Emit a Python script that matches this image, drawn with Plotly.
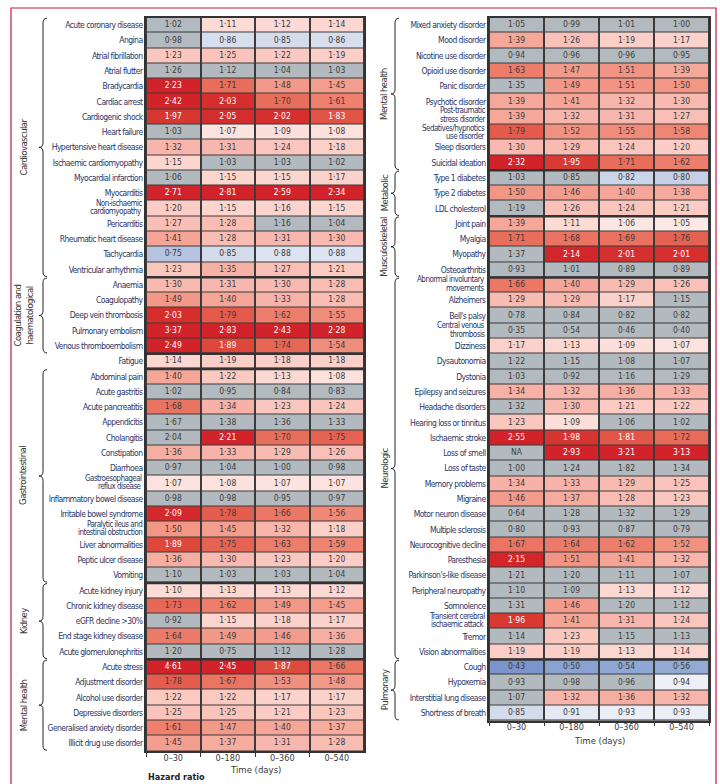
import plotly.graph_objects as go

# ---------------- data ----------------
time_windows = ["0–30", "0–180", "0–360", "0–540"]

left_conditions = [
    "Acute coronary disease", "Angina", "Atrial fibrillation", "Atrial flutter", "Bradycardia",
    "Cardiac arrest", "Cardiogenic shock", "Heart failure", "Hypertensive heart disease",
    "Ischaemic cardiomyopathy", "Myocardial infarction", "Myocarditis",
    "Non-ischaemic<br>cardiomyopathy", "Pericarditis", "Rheumatic heart disease", "Tachycardia",
    "Ventricular arrhythmia",
    "Anaemia", "Coagulopathy", "Deep vein thrombosis", "Pulmonary embolism", "Venous thromboembolism",
    "Fatigue",
    "Abdominal pain", "Acute gastritis", "Acute pancreatitis", "Appendicitis", "Cholangitis",
    "Constipation", "Diarrhoea", "Gastroesophageal<br>reflux disease", "Inflammatory bowel disease",
    "Irritable bowel syndrome", "Paralytic ileus and<br>intestinal obstruction", "Liver abnormalities",
    "Peptic ulcer disease", "Vomiting",
    "Acute kidney injury", "Chronic kidney disease", "eGFR decline >30%", "End stage kidney disease",
    "Acute glomerulonephritis",
    "Acute stress", "Adjustment disorder", "Alcohol use disorder", "Depressive disorders",
    "Generalised anxiety disorder", "Illicit drug use disorder",
]
left_hr = [
    [1.02, 1.11, 1.12, 1.14], [0.98, 0.86, 0.85, 0.86], [1.23, 1.25, 1.22, 1.19], [1.26, 1.12, 1.04, 1.03],
    [2.23, 1.71, 1.48, 1.45], [2.42, 2.03, 1.70, 1.61], [1.97, 2.05, 2.02, 1.83], [1.03, 1.07, 1.09, 1.08],
    [1.32, 1.31, 1.24, 1.18], [1.15, 1.03, 1.03, 1.02], [1.06, 1.15, 1.15, 1.17], [2.71, 2.81, 2.59, 2.34],
    [1.20, 1.15, 1.16, 1.15], [1.27, 1.28, 1.16, 1.04], [1.41, 1.28, 1.31, 1.30], [0.75, 0.85, 0.88, 0.88],
    [1.23, 1.35, 1.27, 1.21],
    [1.30, 1.31, 1.30, 1.28], [1.49, 1.40, 1.33, 1.28], [2.03, 1.79, 1.62, 1.55], [3.37, 2.83, 2.43, 2.28],
    [2.49, 1.89, 1.74, 1.54],
    [1.14, 1.19, 1.18, 1.18],
    [1.40, 1.22, 1.13, 1.08], [1.02, 0.95, 0.84, 0.83], [1.68, 1.34, 1.23, 1.24], [1.67, 1.38, 1.36, 1.33],
    [2.04, 2.21, 1.70, 1.75], [1.36, 1.33, 1.29, 1.26], [0.97, 1.04, 1.00, 0.98], [1.07, 1.08, 1.07, 1.07],
    [0.98, 0.98, 0.95, 0.97], [2.09, 1.78, 1.66, 1.56], [1.50, 1.45, 1.32, 1.18], [1.89, 1.75, 1.63, 1.59],
    [1.36, 1.30, 1.23, 1.20], [1.10, 1.03, 1.03, 1.04],
    [1.10, 1.13, 1.13, 1.12], [1.73, 1.62, 1.49, 1.45], [0.92, 1.15, 1.18, 1.17], [1.64, 1.49, 1.46, 1.36],
    [1.20, 0.75, 1.12, 1.28],
    [4.61, 2.45, 1.87, 1.66], [1.78, 1.67, 1.53, 1.48], [1.22, 1.22, 1.17, 1.17], [1.25, 1.25, 1.21, 1.23],
    [1.61, 1.47, 1.40, 1.37], [1.45, 1.37, 1.31, 1.28],
]
# 1 = not significant (grey cell)
left_grey = [
    "1000", "1000", "0000", "1111", "0000", "0000", "0000", "1000", "0000", "0111", "1000", "0000",
    "0000", "0011", "0000", "0000", "0000",
    "0000", "0000", "0000", "0000", "0000",
    "0000",
    "0000", "1111", "0000", "1111", "1000", "0000", "1111", "0000", "1111", "0000", "0000", "0000",
    "0000", "1111",
    "0000", "0000", "1000", "0000", "1111",
    "0000", "0000", "0000", "0000", "0000", "0000",
]
left_groups = [
    ("Cardiovascular", 0, 16), ("Coagulation and<br>haematological", 17, 21),
    ("Gastrointestinal", 23, 36), ("Kidney", 37, 41), ("Mental health", 42, 47),
]
left_breaks = [16, 21, 22, 36, 41]

right_conditions = [
    "Mixed anxiety disorder", "Mood disorder", "Nicotine use disorder", "Opioid use disorder",
    "Panic disorder", "Psychotic disorder", "Post-traumatic<br>stress disorder",
    "Sedatives/hypnotics<br>use disorder", "Sleep disorders", "Suicidal ideation",
    "Type 1 diabetes", "Type 2 diabetes", "LDL cholesterol",
    "Joint pain", "Myalgia", "Myopathy", "Osteoarthritis",
    "Abnormal involuntary<br>movements", "Alzheimers", "Bell's palsy", "Central venous<br>thrombosis",
    "Dizziness", "Dysautonomia", "Dystonia", "Epilepsy and seizures", "Headache disorders",
    "Hearing loss or tinnitus", "Ischaemic stroke", "Loss of smell", "Loss of taste",
    "Memory problems", "Migraine", "Motor neuron disease", "Multiple sclerosis",
    "Neurocognitive decline", "Paresthesia", "Parkinson's-like disease", "Peripheral neuropathy",
    "Somnolence", "Transient cerebral<br>ischaemic attack", "Tremor", "Vision abnormalities",
    "Cough", "Hypoxemia", "Interstitial lung disease", "Shortness of breath",
]
right_hr = [
    [1.05, 0.99, 1.01, 1.00], [1.39, 1.26, 1.19, 1.17], [0.94, 0.96, 0.96, 0.95], [1.63, 1.47, 1.51, 1.39],
    [1.35, 1.49, 1.51, 1.50], [1.39, 1.41, 1.32, 1.30], [1.39, 1.32, 1.31, 1.27], [1.79, 1.52, 1.55, 1.58],
    [1.30, 1.29, 1.24, 1.20], [2.32, 1.95, 1.71, 1.62],
    [1.03, 0.85, 0.82, 0.80], [1.50, 1.46, 1.40, 1.38], [1.19, 1.26, 1.24, 1.21],
    [1.39, 1.11, 1.06, 1.05], [1.71, 1.68, 1.69, 1.76], [1.37, 2.14, 2.01, 2.01], [0.93, 1.01, 0.89, 0.89],
    [1.66, 1.40, 1.29, 1.26], [1.29, 1.29, 1.17, 1.15], [0.78, 0.84, 0.82, 0.82], [0.35, 0.54, 0.46, 0.40],
    [1.17, 1.13, 1.09, 1.07], [1.22, 1.15, 1.08, 1.07], [1.03, 0.92, 1.16, 1.29], [1.34, 1.32, 1.36, 1.33],
    [1.32, 1.30, 1.21, 1.22], [1.23, 1.09, 1.06, 1.02], [2.55, 1.98, 1.81, 1.72], [None, 2.93, 3.21, 3.13],
    [1.00, 1.24, 1.82, 1.34], [1.34, 1.33, 1.29, 1.25], [1.46, 1.37, 1.28, 1.23], [0.64, 1.28, 1.32, 1.29],
    [0.80, 0.93, 0.87, 0.79], [1.67, 1.64, 1.62, 1.52], [2.15, 1.51, 1.41, 1.32], [1.21, 1.20, 1.11, 1.07],
    [1.10, 1.09, 1.13, 1.12], [1.31, 1.46, 1.20, 1.12], [1.96, 1.41, 1.31, 1.24], [1.14, 1.23, 1.15, 1.13],
    [1.19, 1.19, 1.13, 1.14],
    [0.43, 0.50, 0.54, 0.56], [0.93, 0.98, 0.96, 0.94], [1.07, 1.32, 1.36, 1.32], [0.85, 0.91, 0.93, 0.93],
]
right_grey = [
    "1111", "0000", "1111", "0000", "1000", "0000", "0000", "0000", "0000", "0000",
    "1100", "0000", "1000",
    "0000", "0000", "1000", "1111",
    "0000", "0001", "1111", "1111", "0000", "1111", "1111", "0000", "1000", "0011", "0000", "1000",
    "1111", "0000", "0000", "1111", "1111", "0000", "0000", "1111", "1100", "1011", "0000", "1011",
    "0000",
    "0000", "1110", "1000", "0000",
]
right_groups = [
    ("Mental health", 0, 9), ("Metabolic", 10, 12), ("Musculoskeletal", 13, 16),
    ("Neurologic", 17, 41), ("Pulmonary", 42, 45),
]
right_breaks = [9, 12, 16, 41]

# ---------------- styling ----------------
W, H = 720, 784
FONT = "DejaVu Sans Condensed, Liberation Sans Narrow, sans-serif"
LABEL_COL = "#2b3566"
TEXT_COL = "#3a3a3a"
GREY = "#b3babf"
LINE = "#333333"
LAB_SIZE = 8.5
TIGHT = "letter-spacing:-0.55px"

zmin, zmax = 0.4, 2.2
def pos(v):
    return (v - zmin) / (zmax - zmin)

colorscale = [
    [pos(0.40), "#7590c9"], [pos(0.50), "#88a2d2"], [pos(0.75), "#b6c3e0"], [pos(0.85), "#d4dcec"],
    [pos(0.94), "#eef0f7"], [pos(1.00), "#fcf4f3"], [pos(1.10), "#fcdcd7"], [pos(1.20), "#fbcdc6"],
    [pos(1.30), "#f8b9b0"], [pos(1.40), "#f5a698"], [pos(1.50), "#f29686"], [pos(1.60), "#ee826f"],
    [pos(1.70), "#e96f5d"], [pos(1.80), "#e3584a"], [pos(1.90), "#dc4639"], [pos(2.00), "#d5302e"],
    [pos(2.20), "#d2222a"],
]

def fmt(v):
    return "NA" if v is None else f"{v:.2f}".replace(".", "·")

def tight(t):
    return f"<span style='{TIGHT}'>{t}</span>"

panels = [
    dict(cond=left_conditions, hr=left_hr, grey=left_grey, groups=left_groups, breaks=left_breaks,
         xa="x", ya="y", xdom=(146, 364), ydom=(17.5, 751), brace_x=43, label_x=23, title_y=769),
    dict(cond=right_conditions, hr=right_hr, grey=right_grey, groups=right_groups, breaks=right_breaks,
         xa="x2", ya="y2", xdom=(489, 709), ydom=(17.5, 720.7), brace_x=395, label_x=384, title_y=740),
]

fig = go.Figure()
shapes, annotations = [], []

for k, p in enumerate(panels):
    n = len(p["cond"])
    rows = list(range(n))
    z_sig, z_grey = [], []
    tx, ty, tt, tc = [], [], [], []
    for i in rows:
        zs, zg = [], []
        for j in range(4):
            v = p["hr"][i][j]
            g = p["grey"][i][j] == "1" or v is None
            zs.append(None if g else v)
            zg.append(1 if g else None)
            tx.append(time_windows[j]); ty.append(i); tt.append(fmt(v))
            tc.append("white" if (not g and v >= 1.8) else TEXT_COL)
        z_sig.append(zs); z_grey.append(zg)

    fig.add_trace(go.Heatmap(x=time_windows, y=rows, z=z_grey, colorscale=[[0, GREY], [1, GREY]],
                             zmin=0, zmax=1, showscale=False, xgap=2, ygap=1, hoverinfo="skip",
                             xaxis=p["xa"], yaxis=p["ya"]))
    fig.add_trace(go.Heatmap(x=time_windows, y=rows, z=z_sig, colorscale=colorscale, zmin=zmin, zmax=zmax,
                             showscale=False, xgap=2, ygap=1, xaxis=p["xa"], yaxis=p["ya"],
                             hovertemplate="%{z}<extra></extra>"))
    fig.add_trace(go.Scatter(x=tx, y=ty, text=tt, mode="text", textposition="middle center",
                             textfont=dict(family=FONT, size=8.5, color=tc), hoverinfo="skip",
                             showlegend=False, xaxis=p["xa"], yaxis=p["ya"]))

    two_line = ["<br>" in c for c in p["cond"]]
    single = [i for i in rows if not two_line[i]]
    ax_suffix = "" if k == 0 else "2"
    fig.update_layout(**{
        "xaxis" + ax_suffix: dict(domain=[p["xdom"][0] / W, p["xdom"][1] / W], anchor="y" + ax_suffix,
                                  type="category", ticks="outside", tickson="boundaries", ticklen=4,
                                  tickcolor=LINE, showline=True, linecolor=LINE, linewidth=1.5, mirror=True,
                                  tickfont=dict(family=FONT, size=9, color=TEXT_COL), showgrid=False,
                                  ticklabelstandoff=-3, fixedrange=True),
        "yaxis" + ax_suffix: dict(domain=[1 - p["ydom"][1] / H, 1 - p["ydom"][0] / H], anchor="x" + ax_suffix,
                                  range=[n - 0.5, -0.5], tickvals=single,
                                  ticktext=[tight(p["cond"][i]) for i in single], ticks="", showline=True,
                                  linecolor=LINE, linewidth=1.5, mirror=True, showgrid=False, zeroline=False,
                                  tickfont=dict(family=FONT, size=LAB_SIZE, color=LABEL_COL), fixedrange=True),
    })
    yref = p["ya"]
    # two-line row labels
    for i in rows:
        if two_line[i]:
            shift = 0.0
            if i + 1 < n and two_line[i + 1]:
                shift -= 0.07
            if i > 0 and two_line[i - 1]:
                shift += 0.07
            l1, l2 = p["cond"][i].split("<br>")
            for txt, off in ((l1, -0.33), (l2, 0.22)):
                annotations.append(dict(text=tight(txt), x=(p["xdom"][0] - 2) / W, xref="paper",
                                        xanchor="right", y=i + off + shift, yref=yref, yanchor="middle",
                                        showarrow=False,
                                        font=dict(family=FONT, size=8, color=LABEL_COL)))
    # group separators
    for b in p["breaks"]:
        shapes.append(dict(type="line", xref=p["xa"] + " domain", x0=0, x1=1, yref=yref, y0=b + 0.5,
                           y1=b + 0.5, line=dict(color=LINE, width=2.5)))
    # braces and group labels
    xL = p["brace_x"] / W
    h = 4 / W
    c = 0.3
    for name, a, b in p["groups"]:
        y0, y1 = a - 0.45, b + 0.45
        ym = (y0 + y1) / 2
        path = (f"M {xL + h},{y0} Q {xL},{y0} {xL},{y0 + c} L {xL},{ym - c} "
                f"Q {xL},{ym} {xL - h},{ym} Q {xL},{ym} {xL},{ym + c} "
                f"L {xL},{y1 - c} Q {xL},{y1} {xL + h},{y1}")
        shapes.append(dict(type="path", path=path, xref="paper", yref=yref,
                           line=dict(color="#222222", width=1)))
        annotations.append(dict(text=tight(name), x=p["label_x"] / W, xref="paper", y=ym, yref=yref,
                                textangle=-90, showarrow=False, xanchor="center", yanchor="middle",
                                font=dict(family=FONT, size=9.5, color="#333333")))
    # axis title
    annotations.append(dict(text="Time (days)", x=(p["xdom"][0] + p["xdom"][1]) / 2 / W, xref="paper",
                            xanchor="center", y=1 - p["title_y"] / H, yref="paper", yanchor="middle",
                            showarrow=False, font=dict(family=FONT, size=9.5, color=TEXT_COL)))

annotations.append(dict(text="<b>Hazard ratio</b>", x=146 / W, xref="paper", xanchor="left",
                        y=1 - 777 / H, yref="paper", yanchor="middle", showarrow=False,
                        font=dict(family=FONT, size=9, color="#222222")))
# outer frame
shapes.append(dict(type="rect", xref="paper", yref="paper", x0=11 / W, x1=716 / W, y0=-0.2, y1=1 - 8 / H,
                   line=dict(color="#c8163f", width=1.2), layer="below"))

fig.update_layout(width=W, height=H, margin=dict(l=0, r=0, t=0, b=0), paper_bgcolor="white",
                  plot_bgcolor="#3b3b3b", showlegend=False, shapes=shapes, annotations=annotations,
                  font=dict(family=FONT))

fig.write_html("out.html", config={"displayModeBar": False},
               post_script="document.body.style.margin='0';document.body.style.overflow='hidden';")
